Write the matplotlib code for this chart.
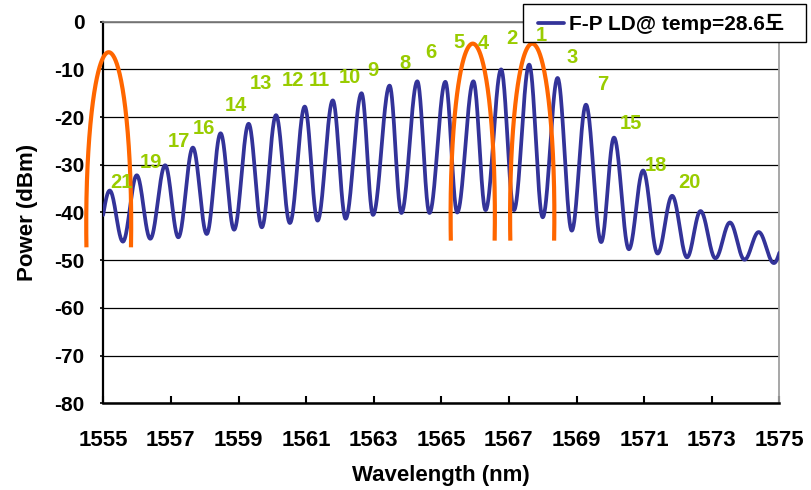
import numpy as np
import matplotlib
matplotlib.use("Agg")
import matplotlib.pyplot as plt
from matplotlib.patches import Rectangle

plt.rcParams['font.family'] = ['Liberation Sans', 'Noto Sans CJK KR', 'DejaVu Sans']
plt.rcParams['font.weight'] = 'bold'
plt.rcParams['axes.unicode_minus'] = False

# ---- data ----
peak_wl = [1555.19, 1555.99, 1556.83, 1557.65, 1558.47, 1559.30, 1560.11, 1560.96,
           1561.79, 1562.64, 1563.47, 1564.29, 1565.12, 1565.95, 1566.77, 1567.60,
           1568.44, 1569.28, 1570.11, 1570.97, 1571.83, 1572.67, 1573.54, 1574.39,
           1575.22]
peak_db = [-35.4, -32.2, -30.1, -26.4, -23.4, -21.4, -19.6, -17.8,
           -16.5, -15.0, -13.4, -12.5, -12.6, -12.5, -10.0, -9.0,
           -11.8, -17.4, -24.3, -31.2, -36.5, -39.7, -42.1, -44.1,
           -45.0]
valley_wl = [1554.78, 1555.58, 1556.39, 1557.22, 1558.06, 1558.87, 1559.69, 1560.52,
             1561.34, 1562.17, 1562.98, 1563.82, 1564.65, 1565.47, 1566.31, 1567.15,
             1568.00, 1568.86, 1569.73, 1570.55, 1571.40, 1572.27, 1573.11, 1573.97,
             1574.84]
valley_db = [-46.5, -46.1, -45.5, -45.2, -44.5, -43.6, -43.1, -42.2,
             -41.7, -41.3, -40.5, -40.1, -40.1, -40.0, -39.5, -39.5,
             -41.0, -43.8, -46.2, -47.7, -48.6, -49.4, -49.6, -49.9,
             -50.6]

arc_center_wl = [1555.16, 1565.93, 1567.69]
arc_peak_db = [-6.4, -4.6, -4.6]
arc_half_width = [0.665, 0.655, 0.655]
arc_bottom_db = [-47.3, -45.9, -45.9]

mode_labels = ['21', '19', '17', '16', '14', '13', '12', '11', '10', '9', '8', '6',
               '5', '4', '2', '1', '3', '7', '15', '18', '20']
label_wl = [1555.53, 1556.42, 1557.23, 1557.99, 1558.92, 1559.66, 1560.60, 1561.38,
            1562.29, 1562.97, 1563.94, 1564.68, 1565.51, 1566.25, 1567.09, 1567.96,
            1568.88, 1569.77, 1570.62, 1571.35, 1572.33]
label_db = [-33.7, -29.6, -25.2, -22.3, -17.5, -12.9, -12.3, -12.3,
            -11.8, -10.2, -8.8, -6.5, -4.3, -4.5, -3.6, -2.9,
            -7.5, -13.2, -21.4, -30.1, -33.8]

legend_label = 'F-P LD@ temp=28.6도'
x_ticks = list(range(1555, 1576, 2))
y_ticks = list(range(-80, 1, 10))

BLUE = '#333399'
ORANGE = '#FF6600'
GREEN = '#99CC00'

# ---- smooth spectrum through the read extrema (half-cosine between them) ----
ext_wl, ext_db = [], []
for i in range(len(valley_wl)):
    ext_wl += [valley_wl[i], peak_wl[i]]
    ext_db += [valley_db[i], peak_db[i]]
xs, ys = [], []
for i in range(len(ext_wl) - 1):
    x0, x1 = ext_wl[i], ext_wl[i + 1]
    y0, y1 = ext_db[i], ext_db[i + 1]
    t = np.linspace(0, 1, 40, endpoint=False)
    c = (1 - np.cos(np.pi * t)) / 2
    xs.append(x0 + (x1 - x0) * t)
    ys.append(y0 + (y1 - y0) * c)
xs.append([ext_wl[-1]]); ys.append([ext_db[-1]])
xs = np.concatenate(xs); ys = np.concatenate(ys)

fig = plt.figure(figsize=(8.12, 4.9), dpi=100)
ax = fig.add_axes([103.3 / 812, 1 - 403.3 / 490, (779.3 - 103.3) / 812, (403.3 - 21.7) / 490])

ax.plot(xs, ys, color=BLUE, lw=2.7, label=legend_label, zorder=3, solid_capstyle='round')

# orange elliptical arcs
b = 36.0
for xc, yp, a, yb in zip(arc_center_wl, arc_peak_db, arc_half_width, arc_bottom_db):
    yc = yp - b
    t0 = np.arcsin(np.clip((yc - yb) / b, -1, 1))
    tt = np.linspace(-t0, np.pi + t0, 300)
    ax.plot(xc + a * np.cos(tt), yc + b * np.sin(tt), color=ORANGE, lw=3.0,
            zorder=4, clip_on=False, solid_capstyle='butt')

for s, xw, yd in zip(mode_labels, label_wl, label_db):
    ax.text(xw, yd, s, color=GREEN, fontsize=14.5, fontweight='bold',
            ha='center', va='center', zorder=7, clip_on=False)

ax.set_xlim(1555, 1575)
ax.set_ylim(-80, 0)
ax.set_xticks(x_ticks)
ax.set_yticks(y_ticks)
ax.tick_params(axis='x', direction='in', length=5, width=1.5, pad=19, labelsize=16)
ax.tick_params(axis='y', direction='out', length=2.5, width=1.2, pad=11, labelsize=15)
for lab in ax.get_xticklabels() + ax.get_yticklabels():
    lab.set_fontweight('bold')

ax.yaxis.grid(True, color='black', lw=0.9)
ax.set_axisbelow(True)
ax.spines['left'].set_color('black'); ax.spines['left'].set_linewidth(1.6)
ax.spines['bottom'].set_color('black'); ax.spines['bottom'].set_linewidth(1.8)
ax.spines['top'].set_color('#808080'); ax.spines['top'].set_linewidth(1.3)
ax.spines['right'].set_color('#A0A0A0'); ax.spines['right'].set_linewidth(1.3)

ax.set_xlabel('Wavelength (nm)', fontsize=16, fontweight='bold', labelpad=10)
ax.set_ylabel('Power (dBm)', fontsize=16, fontweight='bold', labelpad=12)

# legend box
W, H = 812.0, 490.0
box = Rectangle((523 / W, 1 - 41.7 / H), (806 - 523) / W, (41.7 - 4) / H,
                transform=fig.transFigure, facecolor='white', edgecolor='black',
                lw=1.0, zorder=5, clip_on=False)
ax.add_patch(box)
leg = ax.legend(loc='center left', bbox_to_anchor=(538 / W, 1 - 24 / H),
                bbox_transform=fig.transFigure, borderaxespad=0, borderpad=0,
                frameon=False, handlelength=1.25, handletextpad=0.25,
                prop={'weight': 'bold', 'size': 15})
leg.set_zorder(6)

fig.savefig('out.png', dpi=100)
